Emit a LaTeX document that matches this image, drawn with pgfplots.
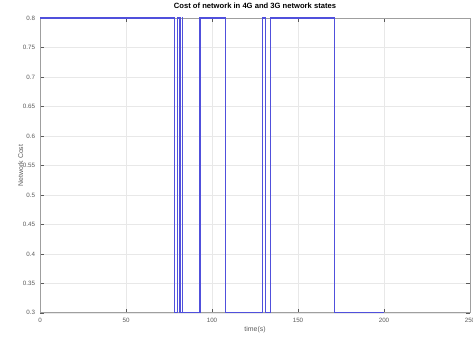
\documentclass[border=0pt]{standalone}
\usepackage{pgfplots}
\pgfplotsset{compat=1.18}
\usepackage{fontspec}
\setmainfont{Liberation Sans}
\usetikzlibrary{calc}
\definecolor{lineblue}{RGB}{80,80,220}
\definecolor{tickgray}{RGB}{90,90,90}
\begin{document}
\begin{tikzpicture}
\begin{axis}[
  scale only axis,
  width=10.91cm, height=7.48cm,
  xmin=0, xmax=250, ymin=0.3, ymax=0.8,
  xtick={0,50,100,150,200,250},
  ytick={0.3,0.35,0.4,0.45,0.5,0.55,0.6,0.65,0.7,0.75,0.8},
  yticklabels={0.3,0.35,0.4,0.45,0.5,0.55,0.6,0.65,0.7,0.75,0.8},
  tick align=inside,
  major tick length=3pt,
  tick style={tickgray, line width=0.4pt},
  grid=major,
  grid style={gray!18, line width=0.4pt},
  axis line style={gray!75, line width=0.6pt},
  ticklabel style={font=\fontsize{4.5}{5}\selectfont, text=tickgray},
  /pgf/number format/assume math mode=true,
  title={\textbf{Cost of network in 4G and 3G network states}},
  title style={font=\fontsize{5.5}{6}\selectfont, yshift=-3pt},
  xlabel={time(s)},
  ylabel={Network Cost},
  label style={font=\fontsize{5}{6}\selectfont, text=tickgray},
  xlabel style={yshift=4pt},
  ylabel style={yshift=-7pt},
  clip=false,
]
\addplot[lineblue, line width=0.8pt] coordinates {
(0,0.8)(78,0.8)(78,0.3)(79.7,0.3)(79.7,0.8)(81.4,0.8)(81.4,0.3)(83,0.3)(83,0.8)(83.1,0.8)(83.1,0.3)
(93,0.3)(93,0.8)(108,0.8)(108,0.3)
(129.5,0.3)(129.5,0.8)(131.2,0.8)(131.2,0.3)(134.2,0.3)(134.2,0.8)
(171,0.8)(171,0.3)(200,0.3)
};
\end{axis}
\pgfresetboundingbox
\useasboundingbox ($(current axis.south west)+(-1.015cm,-0.61cm)$) rectangle ($(current axis.north east)+(0.076cm,0.457cm)$);
\end{tikzpicture}
\end{document}
